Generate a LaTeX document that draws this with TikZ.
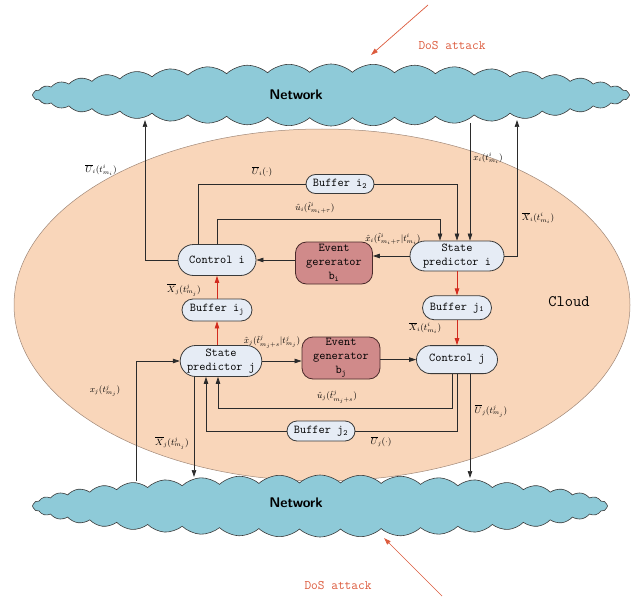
\documentclass[tikz,border=0pt]{standalone}
\usepackage{fontspec}
\usetikzlibrary{arrows.meta,positioning,shapes.misc,shapes.symbols}
\definecolor{LineInk}{HTML}{2B2B2B}
\definecolor{BoxBg}{HTML}{E6ECF5}
\definecolor{BoxRule}{HTML}{3A3A3A}
\definecolor{EvtBg}{HTML}{D08A8A}
\definecolor{EvtRule}{HTML}{4A2A2A}
\definecolor{NetBg}{HTML}{8ECAD8}
\definecolor{NetRule}{HTML}{3A3A3A}
\definecolor{CloudBg}{HTML}{F9D6BA}
\definecolor{CloudRule}{HTML}{A08878}
\definecolor{ArrRed}{HTML}{D22A1E}
\definecolor{DosRed}{HTML}{DC5A3C}

\begin{document}
\begin{tikzpicture}[x=1pt,y=-1pt,
  link/.style={draw=LineInk, line width=0.7pt},
  arr/.style={link, -{Triangle[length=7pt,width=4.5pt]}},
  redarr/.style={draw=ArrRed, line width=0.8pt, -{Triangle[length=7pt,width=4.5pt]}},
  blk/.style={rounded rectangle, fill=BoxBg, draw=BoxRule, line width=0.8pt,
              font=\ttfamily\large, inner sep=1pt, align=center},
  evt/.style={rectangle, rounded corners=11pt, fill=EvtBg, draw=EvtRule, line width=0.8pt,
              font=\ttfamily\large, align=center, inner sep=1pt,
              minimum width=77pt, minimum height=42pt},
  net/.style={cloud, cloud puffs=44, cloud puff arc=85, fill=NetBg, draw=NetRule,
              line width=0.6pt, inner sep=0pt},
  nettxt/.style={font=\sffamily\bfseries\fontsize{14}{16}\selectfont},
  lbl/.style={font=\small, inner sep=0pt},
  dos/.style={font=\ttfamily\fontsize{13}{15}\selectfont, text=DosRed},
  dosarr/.style={draw=DosRed, line width=0.7pt, -{Triangle[length=7pt,width=4.5pt]}}]
  \useasboundingbox (0,0) rectangle (637,599);

  % cloud area
  \path[draw=CloudRule, fill=CloudBg, line width=0.5pt] (322,305) ellipse [x radius=308pt, y radius=176pt];
  \node[font=\ttfamily\fontsize{16}{18}\selectfont] (cloudlbl) at (569,302) {Cloud};

  % networks
  \node[net, minimum width=597pt, minimum height=62pt] (netT) at (331,95) {};
  \node[nettxt] (netTtxt) at (296,95) {Network};
  \node[net, minimum width=575pt, minimum height=62pt] (netB) at (320,506) {};
  \node[nettxt] (netBtxt) at (296,503) {Network};

  % ends on the network borders
  \coordinate (tA) at (145,120);
  \coordinate (tB) at (470,123);
  \coordinate (tC) at (517,120);
  \coordinate (bA) at (136,481);
  \coordinate (bB) at (194,477);
  \coordinate (bD) at (470,478);

  % subsystem i
  \node[blk, minimum width=80pt, minimum height=31pt] (ci) at (217,260) {Control i};
  \node[evt] (egi) at (334,263) {Event\\gererator\\b\textsubscript{i}};
  \node[blk, minimum width=96pt, minimum height=30pt] (spi) at (457,256) {State\\predictor i};
  \node[blk, minimum width=70pt, minimum height=19pt] (bi2) at (340,184) {Buffer i\textsubscript{2}};
  \node[blk, minimum width=71pt, minimum height=24pt, below=24pt of spi] (bj1) {Buffer j\textsubscript{1}};
  \node[blk, minimum width=83pt, minimum height=28pt, below=25pt of bj1] (cj) {Control j};

  % subsystem j
  \node[blk, minimum width=81pt, minimum height=31pt] (spj) at (221,361) {State\\predictor j};
  \node[blk, minimum width=72pt, minimum height=22pt] (bij) at (217,310) {Buffer i\textsubscript{j}};
  \node[evt, minimum width=78pt] (egj) at (341,358) {Event\\generator\\b\textsubscript{j}};
  \node[blk, minimum width=70pt, minimum height=20pt] (bj2) at (321,431) {Buffer j\textsubscript{2}};

  % connectors of i
  \draw[arr] (ci.west) -| (tA);
  \draw[link] ([xshift=-19pt]ci.north) |- (bi2.west);
  \draw[arr] (bi2.east) -| (spi.north);
  \draw[arr] (ci.north) -- ++(0,-25) -| ([xshift=-17pt]spi.north);
  \draw[arr] (tB) -- (tB |- spi.north);
  \draw[arr] (spi.east) -| (tC);
  \draw[arr] (spi.west) -- (spi.west -| egi.east);
  \draw[arr] (egi.west |- ci.east) -- (ci.east);
  \draw[redarr] (spi.south) -- (bj1.north);
  \draw[redarr] (bj1.south) -- (cj.north);

  % connectors of j
  \draw[redarr] (bij.north) -- (ci.south);
  \draw[redarr] (spj.north -| bij.south) -- (bij.south);
  \draw[arr] (spj.east) -- (spj.east -| egj.west);
  \draw[arr] (egj.east |- cj.west) -- (cj.west);
  \draw[arr] ([xshift=-5pt]cj.south) -- ++(0,34) -| ([xshift=-3pt]spj.south);
  \draw[link] (cj.south) |- (bj2.east);
  \draw[arr] (bj2.west) -| ([xshift=-15pt]spj.south);
  \draw[arr] ([xshift=13pt]cj.south) -- (bD);
  \draw[arr] (bA) |- (spj.west);
  \draw[arr] ([xshift=-27pt]spj.south) -- (bB);

  % signal labels
  \node[lbl] (lUi) at (101,170) {$\overline{U}_i(t^i_{m_i})$};
  \node[lbl] (lUid) at (262,172) {$\overline{U}_i(\cdot)$};
  \node[lbl] (luhi) at (315,208) {$\hat{u}_i(\hat{t}^i_{m_i+\tau})$};
  \node[lbl] (lxi) at (488,158) {$x_i(t^i_{m_i})$};
  \node[lbl] (lXi) at (538,218) {$\overline{X}_i(t^i_{m_i})$};
  \node[lbl] (lxhi) at (393,239) {$\hat{x}_i(\hat{t}^i_{m_i+\tau}|t^i_{m_i})$};
  \node[lbl] (lXjc) at (184,290) {$\overline{X}_j(t^j_{m_j})$};
  \node[lbl] (lXic) at (425,328) {$\overline{X}_i(t^i_{m_i})$};
  \node[lbl] (lxhj) at (272,342) {$\hat{x}_j(\hat{t}^j_{m_j+s}|t^j_{m_j})$};
  \node[lbl] (luhj) at (337,397) {$\hat{u}_j(\hat{t}^j_{m_j+s})$};
  \node[lbl] (lUjd) at (381,442) {$\overline{U}_j(\cdot)$};
  \node[lbl] (lUj) at (491,411) {$\overline{U}_j(t^j_{m_j})$};
  \node[lbl] (lxj) at (105,391) {$x_j(t^j_{m_j})$};
  \node[lbl] (lXj) at (172,443) {$\overline{X}_j(t^j_{m_j})$};

  % attacks
  \coordinate (dosTs) at (428,5);
  \coordinate (dosTe) at (371,55);
  \coordinate (dosBs) at (442,596);
  \coordinate (dosBe) at (384,538);
  \draw[dosarr] (dosTs) -- (dosTe);
  \draw[dosarr] (dosBs) -- (dosBe);
  \node[dos] (dosT) at (452,46) {DoS attack};
  \node[dos] (dosB) at (338,586) {DoS attack};
\end{tikzpicture}
\end{document}
